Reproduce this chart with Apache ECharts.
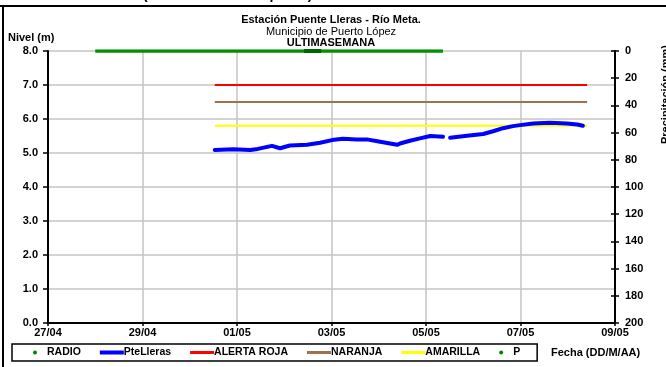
<!DOCTYPE html>
<html><head><meta charset="utf-8">
<script src="https://cdn.jsdelivr.net/npm/echarts@6/dist/echarts.min.js"></script>
<style>html,body{margin:0;padding:0;background:#fff}#c{width:666px;height:367px}</style>
</head><body><div id="c"></div>
<script>
// x values are days since 27/04 00:00
var xTickLabels = ['27/04','29/04','01/05','03/05','05/05','07/05','09/05'];
var levelTicks = [0,1,2,3,4,5,6,7,8];
var blueDays = [3.53,3.92,4.28,4.44,4.74,4.91,5.12,5.48,5.76,6.01,6.24,6.54,6.75,7.03,7.39,7.45,7.66,7.87,8.09,8.36,8.43,8.51,8.87,9.21,9.42,9.63,9.84,9.99,10.27,10.62,10.98,11.20,11.32];
var blueLevels = [5.09,5.11,5.09,5.12,5.21,5.14,5.22,5.24,5.30,5.38,5.42,5.40,5.40,5.33,5.24,5.28,5.36,5.43,5.50,5.48,null,5.45,5.51,5.56,5.64,5.73,5.79,5.82,5.87,5.89,5.87,5.84,5.80];
var alertDays = [3.53, 11.41];
var rojaLevel = 7.0, naranjaLevel = 6.5, amarillaLevel = 5.8;
var pDays = [1.0, 8.36];
var pValues = [0, 0];
var radioDays = [5.42, 5.78];
var radioValues = [8.0, 8.0];

function pairs(xs, ys){ return xs.map(function(x,i){ return [x, ys[i]]; }); }
var F = 'Arial, "Liberation Sans", sans-serif';
var chart = echarts.init(document.getElementById('c'));
chart.setOption({
  animation:false,
  backgroundColor:'#fff',
  grid:{left:48,right:51,top:51,bottom:44},
  xAxis:{type:'value',min:0,max:12,interval:2,
    axisLine:{lineStyle:{color:'#000',width:2}},
    axisTick:{inside:false,length:3,lineStyle:{color:'#000',width:1.5}},
    splitLine:{show:true,lineStyle:{color:'#c4c4c4',width:1.5}},
    axisLabel:{color:'#000',fontFamily:F,fontWeight:'bold',fontSize:11,margin:4,
      formatter:function(v){ return xTickLabels[Math.round(v/2)]; }}},
  yAxis:[
    {type:'value',min:0,max:8,interval:1,position:'left',
     axisLine:{show:true,lineStyle:{color:'#000',width:2}},
     axisTick:{show:true,length:5,lineStyle:{color:'#000',width:1.5}},
     splitLine:{show:true,lineStyle:{color:'#c4c4c4',width:1.5}},
     axisLabel:{color:'#000',fontFamily:F,fontWeight:'bold',fontSize:11,margin:10,
       formatter:function(v){ return levelTicks[v].toFixed(1); }}},
    {type:'value',min:0,max:200,interval:20,inverse:true,position:'right',
     axisLine:{show:true,lineStyle:{color:'#000',width:2}},
     axisTick:{show:true,length:4,lineStyle:{color:'#000',width:1.5}},
     splitLine:{show:false},
     axisLabel:{color:'#000',fontFamily:F,fontWeight:'bold',fontSize:11,margin:10}},
    {type:'value',min:0,max:200,interval:20,inverse:true,position:'right',
     axisLine:{show:false},axisLabel:{show:false},splitLine:{show:false},
     axisTick:{show:true,inside:true,length:4,lineStyle:{color:'#000',width:1.5}}}
  ],
  legend:{left:12,top:344,orient:'horizontal',itemGap:19,itemWidth:24,itemHeight:4,
    borderColor:'#000',borderWidth:1.5,padding:[3,17,3,21],
    textStyle:{fontFamily:F,fontWeight:'bold',fontSize:10.5,color:'#000',padding:[0,0,0,-5]},
    data:[
      {name:'RADIO',icon:'circle'},
      {name:'PteLleras',icon:'path://M0,0L24,0L24,4L0,4Z'},
      {name:'ALERTA ROJA',icon:'path://M0,0L24,0L24,3L0,3Z'},
      {name:'NARANJA',icon:'path://M0,0L24,0L24,3L0,3Z'},
      {name:'AMARILLA',icon:'path://M0,0L24,0L24,3L0,3Z'},
      {name:'P',icon:'circle'}
    ]},
  series:[
    {name:'P',type:'line',yAxisIndex:1,data:pairs(pDays,pValues),symbol:'none',
     itemStyle:{color:'#008000'},lineStyle:{color:'#009000',width:3.5}},
    {name:'RADIO',type:'line',data:pairs(radioDays,radioValues),symbol:'none',
     itemStyle:{color:'#008000'},lineStyle:{color:'#006400',width:4}},
    {name:'ALERTA ROJA',type:'line',data:pairs(alertDays,[rojaLevel,rojaLevel]),symbol:'none',
     itemStyle:{color:'#ff0000'},lineStyle:{color:'#ff0000',width:2}},
    {name:'NARANJA',type:'line',data:pairs(alertDays,[naranjaLevel,naranjaLevel]),symbol:'none',
     itemStyle:{color:'#a0714a'},lineStyle:{color:'#a0714a',width:2}},
    {name:'AMARILLA',type:'line',data:pairs(alertDays,[amarillaLevel,amarillaLevel]),symbol:'none',
     itemStyle:{color:'#ffff00'},lineStyle:{color:'#ffff00',width:2}},
    {name:'PteLleras',type:'line',data:pairs(blueDays,blueLevels),symbol:'none',connectNulls:false,
     itemStyle:{color:'#0000ff'},lineStyle:{color:'#0000ff',width:4,cap:'round',join:'round'}}
  ],
  graphic:[
    {type:'line',shape:{x1:0,y1:6,x2:666,y2:6},style:{stroke:'#000',lineWidth:2}},
    {type:'line',shape:{x1:3,y1:5,x2:3,y2:367},style:{stroke:'#000',lineWidth:2}},
    {type:'text',left:143,top:-12,style:{text:'(Red de Alerta Temprana)',font:'bold 14px '+F,fill:'#000'}},
    {type:'text',x:331,y:14,style:{text:'Estación Puente Lleras - Río Meta.',font:'bold 11px '+F,fill:'#000',textAlign:'center'}},
    {type:'text',x:331,y:26,style:{text:'Municipio de Puerto López',font:'11px '+F,fill:'#000',textAlign:'center'}},
    {type:'text',x:331,y:37,style:{text:'ULTIMASEMANA',font:'bold 11px '+F,fill:'#000',textAlign:'center'}},
    {type:'text',x:8,y:32,style:{text:'Nivel (m)',font:'bold 11px '+F,fill:'#000'}},
    {type:'text',x:551,y:347,style:{text:'Fecha (DD/M/AA)',font:'bold 11px '+F,fill:'#000'}},
    {type:'text',x:660,y:45,rotation:Math.PI/2,style:{text:'Precipitación (mm)',font:'bold 11px '+F,fill:'#000',textAlign:'right',textVerticalAlign:'top'}}
  ]
});
</script></body></html>
